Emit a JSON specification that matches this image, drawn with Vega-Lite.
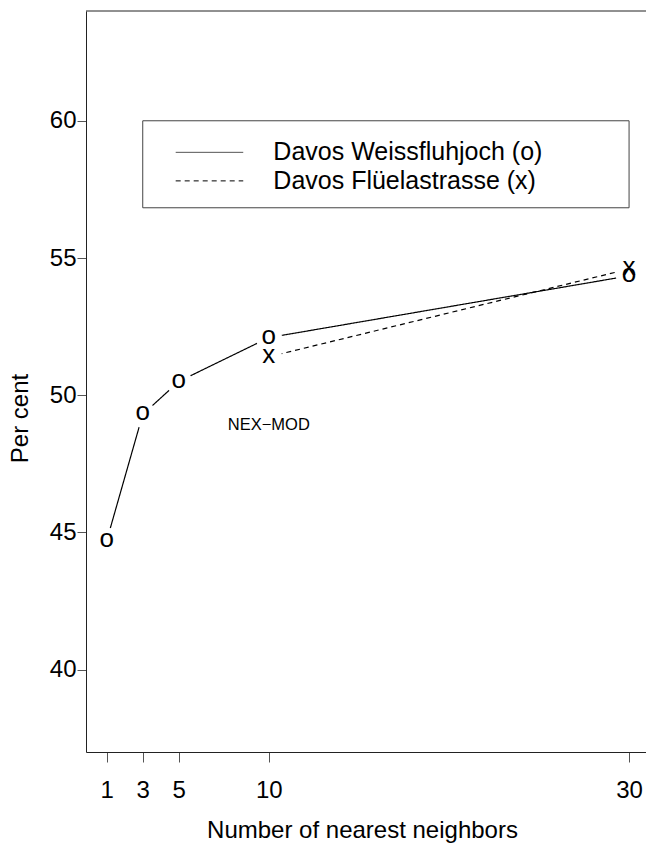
{
  "$schema": "https://vega.github.io/schema/vega-lite/v6.json",
  "width": 560,
  "height": 741,
  "autosize": {"type": "none"},
  "padding": {"left": 86, "top": 11, "right": 0, "bottom": 91},
  "config": {
    "view": {"stroke": null},
    "font": "Liberation Sans",
    "axis": {
      "grid": false,
      "domainColor": "#222",
      "domainWidth": 1,
      "tickColor": "#555",
      "tickWidth": 1,
      "labelColor": "#000",
      "titleColor": "#000",
      "labelFont": "Liberation Sans",
      "titleFont": "Liberation Sans",
      "labelFontSize": 24,
      "titleFontSize": 24,
      "titleFontWeight": "normal"
    }
  },
  "datasets": {
    "series": [
      {"station": "Davos Weissfluhjoch", "neighbors": 1, "pct": 44.7, "sym": "o"},
      {"station": "Davos Weissfluhjoch", "neighbors": 3, "pct": 49.3, "sym": "o"},
      {"station": "Davos Weissfluhjoch", "neighbors": 5, "pct": 50.5, "sym": "o"},
      {"station": "Davos Weissfluhjoch", "neighbors": 10, "pct": 52.1, "sym": "o"},
      {"station": "Davos Weissfluhjoch", "neighbors": 30, "pct": 54.35, "sym": "o"},
      {"station": "Davos Flüelastrasse", "neighbors": 10, "pct": 51.4, "sym": "x"},
      {"station": "Davos Flüelastrasse", "neighbors": 30, "pct": 54.6, "sym": "x"}
    ]
  },
  "layer": [
    {
      "data": {"name": "series"},
      "mark": {"type": "line", "color": "#000", "strokeWidth": 1.2},
      "encoding": {
        "x": {
          "field": "neighbors", "type": "quantitative",
          "scale": {"domain": [-0.15, 30.94], "nice": false, "zero": false},
          "axis": {
            "values": [1, 3, 5, 10, 30],
            "title": "Number of nearest neighbors",
            "tickSize": 10,
            "labelPadding": 16,
            "titleX": 276,
            "titleY": 85,
            "titleBaseline": "alphabetic",
            "titleAlign": "center"
          }
        },
        "y": {
          "field": "pct", "type": "quantitative",
          "scale": {"domain": [37, 64], "nice": false, "zero": false},
          "axis": {
            "values": [40, 45, 50, 55, 60],
            "title": "Per cent",
            "tickSize": 9,
            "labelPadding": 1,
            "titleX": -59,
            "titleY": 407,
            "titleAngle": 270,
            "titleBaseline": "alphabetic",
            "titleAlign": "center"
          }
        },
        "strokeDash": {
          "field": "station", "type": "nominal",
          "scale": {"domain": ["Davos Weissfluhjoch", "Davos Flüelastrasse"], "range": [[1, 0], [5, 4]]},
          "legend": null
        }
      }
    },
    {
      "data": {"name": "series"},
      "mark": {"type": "point", "shape": "circle", "filled": true, "color": "#fff", "opacity": 1, "size": 700},
      "encoding": {
        "x": {"field": "neighbors", "type": "quantitative"},
        "y": {"field": "pct", "type": "quantitative"}
      }
    },
    {
      "data": {"name": "series"},
      "mark": {"type": "text", "fontSize": 26, "baseline": "middle", "align": "center", "dy": -2, "color": "#000"},
      "encoding": {
        "x": {"field": "neighbors", "type": "quantitative"},
        "y": {"field": "pct", "type": "quantitative"},
        "text": {"field": "sym"}
      }
    },
    {
      "data": {"values": [{}]},
      "mark": {"type": "rule", "color": "#222", "strokeWidth": 1},
      "encoding": {"y": {"datum": 64}}
    },
    {
      "data": {"values": [{}]},
      "mark": {"type": "rect", "fill": null, "stroke": "#444", "strokeWidth": 1},
      "encoding": {
        "x": {"datum": 3}, "x2": {"datum": 30},
        "y": {"datum": 60}, "y2": {"datum": 56.83}
      }
    },
    {
      "data": {"values": [{}]},
      "mark": {"type": "rule", "color": "#555", "strokeWidth": 1},
      "encoding": {
        "x": {"datum": 4.83}, "x2": {"datum": 8.58},
        "y": {"datum": 58.85}
      }
    },
    {
      "data": {"values": [{}]},
      "mark": {"type": "rule", "color": "#000", "strokeWidth": 1, "strokeDash": [5, 4]},
      "encoding": {
        "x": {"datum": 4.83}, "x2": {"datum": 8.58},
        "y": {"datum": 57.81}
      }
    },
    {
      "data": {"values": [{}]},
      "mark": {"type": "text", "fontSize": 25, "align": "left", "baseline": "middle", "color": "#000"},
      "encoding": {
        "x": {"datum": 10.25}, "y": {"datum": 58.85},
        "text": {"value": "Davos Weissfluhjoch (o)"}
      }
    },
    {
      "data": {"values": [{}]},
      "mark": {"type": "text", "fontSize": 25, "align": "left", "baseline": "middle", "color": "#000"},
      "encoding": {
        "x": {"datum": 10.25}, "y": {"datum": 57.81},
        "text": {"value": "Davos Flüelastrasse (x)"}
      }
    },
    {
      "data": {"values": [{}]},
      "mark": {"type": "text", "fontSize": 16.5, "align": "center", "baseline": "middle", "color": "#000"},
      "encoding": {
        "x": {"datum": 10}, "y": {"datum": 48.9},
        "text": {"value": "NEX−MOD"}
      }
    }
  ]
}
